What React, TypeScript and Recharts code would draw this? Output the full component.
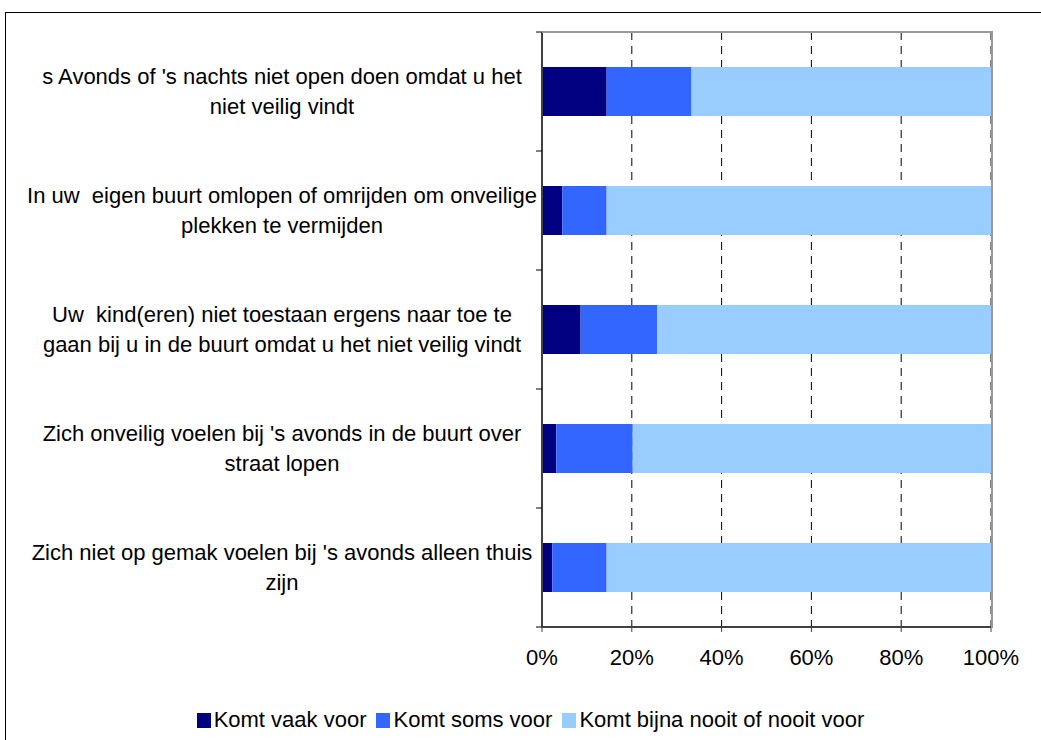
import { BarChart, Bar, XAxis, YAxis, CartesianGrid, Legend } from "recharts"

const categories = [
  "s Avonds of 's nachts niet open doen omdat u het\nniet veilig vindt",
  "In uw  eigen buurt omlopen of omrijden om onveilige\nplekken te vermijden",
  "Uw  kind(eren) niet toestaan ergens naar toe te\ngaan bij u in de buurt omdat u het niet veilig vindt",
  "Zich onveilig voelen bij 's avonds in de buurt over\nstraat lopen",
  "Zich niet op gemak voelen bij 's avonds alleen thuis\nzijn",
]
const vaak = [14.4, 4.5, 8.6, 3.2, 2.3]
const soms = [18.9, 9.9, 17.1, 17.0, 12.1]
const nooit = [66.7, 85.6, 74.3, 79.8, 85.6]
const seriesNames = ["Komt vaak voor", "Komt soms voor", "Komt bijna nooit of nooit voor"]
const seriesColors = ["#000080", "#3366FF", "#99CCFF"]
const xTicks = [0, 20, 40, 60, 80, 100]

const data = categories.map((name, i) => ({
  name,
  vaak: vaak[i],
  soms: soms[i],
  nooit: nooit[i],
}))

const FONT = "'Liberation Sans', Arial, sans-serif"
const M = { top: 32, right: 50, bottom: 73, left: 0 }
const W = 1041
const H = 740
const Y_W = 542
const X_H = 40

function CategoryTick(props: any) {
  const { x, y, payload, index, visibleTicksCount } = props
  const lines = String(payload.value).split("\n")
  const half = payload.offset ?? 59.5
  const cx = x - 260
  return (
    <g>
      <line x1={x - 6} x2={x} y1={y - half} y2={y - half} stroke="#000" />
      {index === visibleTicksCount - 1 && (
        <line x1={x - 6} x2={x} y1={y + half} y2={y + half} stroke="#000" />
      )}
      {lines.map((l, i) => (
        <text
          key={i}
          x={cx}
          y={y + (i - (lines.length - 1) / 2) * 30}
          textAnchor="middle"
          dominantBaseline="central"
          fontSize={22}
          fontFamily={FONT}
          fill="#000"
          style={{ whiteSpace: "pre" }}
        >
          {l}
        </text>
      ))}
    </g>
  )
}

function LegendContent() {
  return (
    <div
      style={{
        display: "flex",
        justifyContent: "center",
        alignItems: "center",
        paddingLeft: 30,
        fontFamily: FONT,
        fontSize: 22,
        color: "#000",
      }}
    >
      {seriesNames.map((n, i) => (
        <div key={n} style={{ display: "flex", alignItems: "center", marginRight: 10 }}>
          <span style={{ width: 14, height: 15, background: seriesColors[i], marginRight: 3, display: "inline-block" }} />
          <span>{n}</span>
        </div>
      ))}
    </div>
  )
}

export default function App() {
  const plotLeft = M.left + Y_W
  const plotTop = M.top
  const plotW = W - plotLeft - M.right
  const plotH = H - M.top - M.bottom - X_H
  return (
    <div style={{ position: "absolute", left: 0, top: 0, width: W, height: H, overflow: "hidden", background: "#fff" }}>
      <div style={{ position: "absolute", left: 5, top: 12, width: 1100, height: 800, border: "1px solid #000" }} />
      <div style={{ position: "absolute", left: 0, top: 0 }}>
        <BarChart width={W} height={H} data={data} layout="vertical" margin={M} style={{ fontFamily: FONT }}>
          <CartesianGrid horizontal={false} stroke="#000" strokeDasharray="8 6" />
          <XAxis
            type="number"
            domain={[0, 100]}
            ticks={xTicks}
            tickFormatter={(v: number) => `${v}%`}
            height={X_H}
            tickSize={5}
            tickMargin={17}
            axisLine={{ stroke: "#404040", strokeWidth: 2 }}
            tickLine={{ stroke: "#404040" }}
            tick={{ fill: "#000", fontSize: 22, fontFamily: FONT }}
          />
          <YAxis
            type="category"
            dataKey="name"
            width={Y_W}
            tickSize={0}
            tickMargin={0}
            tickLine={false}
            axisLine={{ stroke: "#404040", strokeWidth: 2 }}
            tick={<CategoryTick />}
            interval={0}
          />
          <Legend
            layout="horizontal"
            verticalAlign="middle"
            align="center"
            wrapperStyle={{ top: 707, left: 0, width: W }}
            content={<LegendContent />}
          />
          <Bar dataKey="vaak" name={seriesNames[0]} stackId="a" fill={seriesColors[0]} barSize={49} isAnimationActive={false} />
          <Bar dataKey="soms" name={seriesNames[1]} stackId="a" fill={seriesColors[1]} barSize={49} isAnimationActive={false} />
          <Bar dataKey="nooit" name={seriesNames[2]} stackId="a" fill={seriesColors[2]} barSize={49} isAnimationActive={false} />
        </BarChart>
      </div>
      {/* plot-area border, top and right */}
      <div
        style={{
          position: "absolute",
          left: plotLeft,
          top: plotTop - 1,
          width: plotW,
          height: plotH,
          borderTop: "2px solid #999",
          borderRight: "2px solid #999",
          pointerEvents: "none",
        }}
      />
    </div>
  )
}
